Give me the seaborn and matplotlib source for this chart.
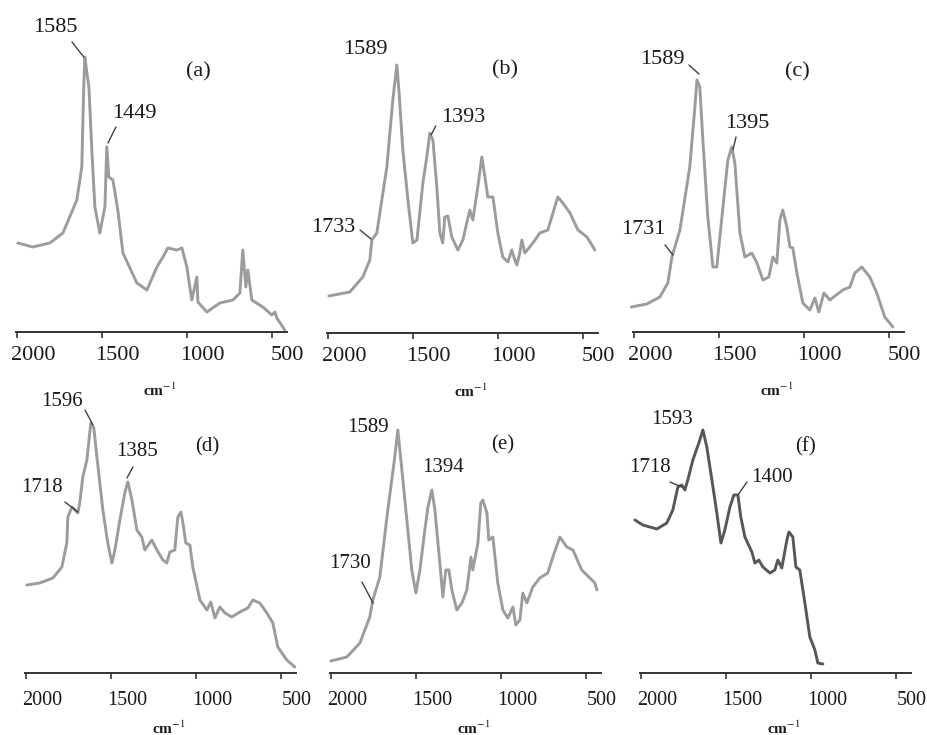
import matplotlib
matplotlib.use("Agg")
import matplotlib.pyplot as plt
import matplotlib.transforms as mtransforms
import seaborn as sns
import pandas as pd

sns.set_style("white")
plt.rcParams['font.family'] = ['Liberation Serif', 'DejaVu Serif']
plt.rcParams['mathtext.fontset'] = 'stix'

# ---------------- data (wavenumber, relative absorbance) ----------------
wn_a = [1994,1906,1806,1729,1647,1618,1606,1600,1588,1576,1559,1541,1512,1482,1471,1459,1435,1406,1376,1294,
        1235,1176,1141,1112,1059,1029,1000,971,941,935,882,806,729,688,671,653,641,618,553,500,482,471,424]
ab_a = [89,85,89,99,132,165,249,275,259,245,182,125,99,125,185,155,152,122,79,49,
        42,65,75,84,82,84,65,32,55,30,20,29,32,39,82,45,62,32,25,17,20,14,2]

wn_b = [1994,1871,1794,1753,1741,1712,1653,1618,1594,1582,1559,1529,1500,1476,1441,1418,1400,1382,1359,1341,
        1324,1312,1294,1271,1235,1206,1165,1147,1118,1094,1076,1059,1029,1000,971,941,918,900,888,871,
        859,841,794,753,706,676,647,618,576,529,476,429]
ab_b = [37,41,56,73,93,100,166,233,268,243,183,133,90,93,150,176,200,193,146,100,
        90,116,117,96,83,93,123,113,146,176,156,136,136,100,76,71,83,73,68,80,
        93,80,90,100,103,120,136,130,120,103,96,83]

wn_c = [2015,1924,1847,1800,1776,1729,1671,1641,1629,1612,1594,1565,1535,1512,1476,1447,1424,1406,1376,1347,
        1306,1276,1241,1206,1182,1159,1141,1124,1100,1082,1065,1041,1006,965,935,912,882,847,771,729,
        700,659,612,571,524,476]
ab_c = [25,28,35,49,75,102,165,225,252,245,192,115,65,65,125,172,185,169,99,75,
        79,69,52,55,75,69,112,122,105,85,84,59,29,22,34,20,39,32,42,45,
        59,65,55,39,15,5]

wn_d = [1994,1918,1841,1788,1759,1753,1729,1712,1694,1682,1665,1641,1618,1600,1582,1547,1518,1494,1476,1447,
        1418,1400,1376,1347,1318,1300,1259,1229,1194,1171,1153,1124,1106,1088,1076,1059,1035,1018,976,935,
        912,888,859,829,788,741,694,665,624,582,547,518,465,418]
ab_d = [88,90,95,106,130,156,166,163,160,171,196,213,250,245,216,163,130,110,123,153,
        180,191,173,143,136,123,133,123,113,110,121,123,156,161,150,130,128,106,73,63,
        71,55,66,60,56,61,65,73,70,60,50,26,13,6]

wn_e = [2000,1906,1829,1771,1753,1712,1665,1624,1606,1582,1553,1524,1500,1476,1447,1429,1406,1388,1359,1341,
        1324,1306,1288,1259,1229,1200,1176,1165,1135,1118,1106,1082,1071,1047,1018,988,959,929,912,888,
        871,847,812,771,724,694,653,612,576,524,447,435]
ab_e = [12,16,30,56,73,96,163,216,243,203,153,103,80,103,143,166,183,163,110,76,
        103,103,83,63,70,83,116,103,130,170,173,160,133,136,90,63,55,66,48,53,
        80,70,86,95,100,116,136,126,123,103,90,83]

wn_f = [2035,1988,1906,1847,1812,1782,1759,1741,1724,1694,1659,1635,1612,1582,1553,1529,1506,1476,1453,1429,
        1412,1388,1347,1329,1306,1282,1241,1212,1194,1171,1141,1129,1106,1088,1065,1035,1006,976,959,929]
ab_f = [153,148,144,150,163,186,188,183,193,213,230,243,226,193,160,130,143,166,178,178,
        156,136,121,110,113,106,100,103,113,105,133,141,136,106,103,70,36,23,10,9]

panel_names = ["(a)", "(b)", "(c)", "(d)", "(e)", "(f)"]
tick_values = [2000, 1500, 1000, 500]
tick_labels = ["2000", "1500", "1000", "500"]
x_label = "cm$^{-1}$"

# peak labels: (text, text_x, text_y, leader line or None)
peaks_a = [("1585", 1776, 305, (1676, 290, 1606, 275)), ("1449", 1311, 219, (1417, 205, 1464, 189))]
peaks_b = [("1589", 1781, 283, None), ("1393", 1205, 216, (1365, 207, 1393, 198)),
           ("1733", 1970, 106, (1811, 103, 1746, 94))]
peaks_c = [("1589", 1834, 272, (1676, 267, 1617, 258)), ("1395", 1334, 209, (1399, 195, 1417, 182)),
           ("1731", 1946, 102, (1817, 87, 1770, 77))]
peaks_d = [("1596", 1787, 271, (1652, 263, 1605, 248)), ("1385", 1346, 221, (1370, 206, 1405, 195)),
           ("1718", 1905, 186, (1770, 171, 1693, 161))]
peaks_e = [("1589", 1781, 246, None), ("1394", 1340, 205, None),
           ("1730", 1887, 110, (1817, 91, 1752, 70))]
peaks_f = [("1593", 1817, 253, None), ("1718", 1946, 205, (1829, 191, 1758, 186)),
           ("1400", 1229, 195, (1376, 191, 1429, 178))]

panels = [
    (wn_a, ab_a, peaks_a, (934, 260)),
    (wn_b, ab_b, peaks_b, (958, 263)),
    (wn_c, ab_c, peaks_c, (1040, 260)),
    (wn_d, ab_d, peaks_d, (934, 226)),
    (wn_e, ab_e, peaks_e, (987, 228)),
    (wn_f, ab_f, peaks_f, (1034, 226)),
]

# layout (pixels)
W, H = 927, 735
lefts = [16, 327, 633, 25, 330, 640]
axis_y = [332, 333, 332, 673, 673, 673]
ax_w, ax_h = 271, 300
px_per_unit = 0.17
colors = ["#9c9c9c"] * 5 + ["#575757"]

fig = plt.figure(figsize=(W / 100, H / 100), dpi=100)

for i, (wn, ab, peaks, plab) in enumerate(panels):
    top_row = i < 3
    ax = fig.add_axes([lefts[i] / W, (H - axis_y[i]) / H, ax_w / W, ax_h / H])
    df = pd.DataFrame({"wn": wn, "ab": ab})
    sns.lineplot(data=df, x="wn", y="ab", ax=ax, color=colors[i], lw=2.1,
                 estimator=None, clip_on=False)
    x0 = 2005
    ax.set_xlim(x0, x0 - ax_w / px_per_unit)
    ax.set_ylim(0, ax_h)
    ax.set_xticks(tick_values)
    ax.set_xticklabels(tick_labels)
    ax.set_yticks([])
    ax.set_ylabel("")
    for s in ["left", "top", "right"]:
        ax.spines[s].set_visible(False)
    ax.spines["bottom"].set_color("#333333")
    ax.spines["bottom"].set_linewidth(1.4)
    pad = 6 if top_row else 9
    lsize = 16 if top_row else 14.5
    ax.tick_params(axis="x", direction="out", length=4, width=1.2, color="#333333",
                   labelsize=lsize, labelcolor="#1a1a1a", pad=pad, bottom=True)
    shift = mtransforms.ScaledTranslation(16 / 100, 0, fig.dpi_scale_trans)
    for tk in ax.xaxis.get_major_ticks():
        tk.label1.set_transform(tk.label1.get_transform() + shift)
    ax.set_xlabel(x_label, fontsize=11, fontweight="bold", color="#1a1a1a")
    ax.xaxis.set_label_coords(0.53, -0.165 if top_row else -0.155)
    asize = 16 if top_row else 15
    for txt, tx, ty, lead in peaks:
        ax.text(tx, ty, txt, fontsize=asize, ha="center", va="center", color="#1a1a1a")
        if lead is not None:
            ax.plot([lead[0], lead[2]], [lead[1], lead[3]], color="#404040", lw=1.0,
                    clip_on=False)
    ax.text(plab[0], plab[1], panel_names[i], fontsize=asize, ha="center", va="center",
            color="#1a1a1a")
    ax.patch.set_alpha(0)

fig.savefig("out.png", dpi=100)
